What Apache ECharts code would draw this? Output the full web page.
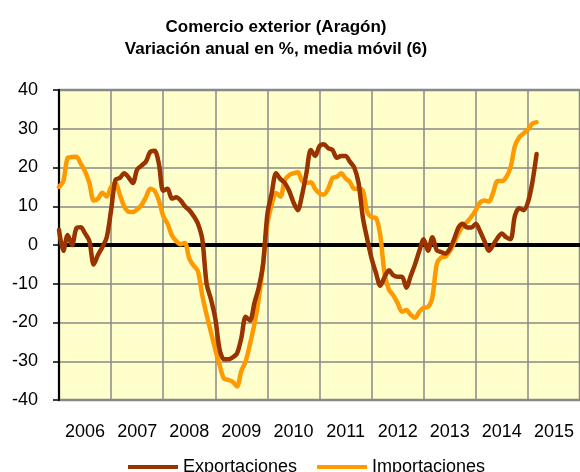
<!DOCTYPE html>
<html>
<head>
<meta charset="utf-8">
<script src="https://cdn.jsdelivr.net/npm/echarts@6/dist/echarts.min.js"></script>
<style>
html,body{margin:0;padding:0;background:#fff;}
#c{width:580px;height:472px;}
</style>
</head>
<body>
<div id="c"></div>
<script>
// Year labels (one band per year)
const years = ['2006','2007','2008','2009','2010','2011','2012','2013','2014','2015'];
// Monthly values from Jan 2006 (index 0) to Mar 2015
const exportaciones = [
  3.9,-1.5,2.6,0,4.3,4.6,3,1,-5,-2.5,-0.5,2,
  9,16.8,17.3,18.5,17.5,16,19.5,20.5,21.5,24,24.3,21,
  14,14.5,12,12.3,11.5,10,9,7.5,5.5,1.5,-10,-14,
  -19,-27,-29.5,-29.5,-29,-28,-24,-18.5,-19.5,-15,-11,-5,
  8,13.4,18.5,17,16,14,11,9,13,18.6,24.5,23,
  25.5,26,25,24.5,22.5,23,23,21.5,20,16,7,1.5,
  -3.5,-7.2,-10.5,-8.2,-6.5,-7.8,-8.2,-8.2,-11,-8,-5,-1.5,
  1.5,-1.5,2,-1.3,-1.8,-2.2,-1,1.5,4.5,5.5,4.5,4.5,
  5.5,3.5,1,-1.5,0,1.8,3,2,1.5,7.5,9.5,9,
  11,16,23.5
];
const importaciones = [
  15,16.5,22.5,22.7,22.8,21,19,16,11.5,12,13.5,12.5,
  15,16,13,10,8.6,8.5,9.2,10.3,12.3,14.5,14,11.5,
  7.5,5.5,2.5,1,0.2,0.5,-3.5,-5.3,-6.8,-13,-18,-22.5,
  -27,-31,-34.5,-34.8,-35.3,-36.5,-32.5,-30,-25.5,-20.5,-14,-5,
  5.5,10.5,13.4,12.5,16.8,18,18.5,18.8,16.5,16,16.2,14.5,
  13.3,13,14.5,17.3,17.6,18.5,17.2,16.3,14.5,14.5,14,8.5,
  7.2,7,2.5,-7.5,-11.5,-13,-15,-17.2,-16.8,-18,-18.8,-17.2,
  -16.2,-16,-13.5,-5,-3.2,-3,-1.6,0.5,3,4.8,6,7.3,
  9,11,11.5,11.2,13.5,16.5,16.5,17.5,20,25.5,27.8,28.8,
  29.8,31.3,31.7
];
const yTicks = {min:-40, max:40, interval:10};

const chart = echarts.init(document.getElementById('c'), null, {renderer:'canvas'});
const font = 'Liberation Sans, Arial, sans-serif';
chart.setOption({
  animation:false,
  backgroundColor:'#ffffff',
  title:{
    text:'Comercio exterior (Aragón)\nVariación anual en %, media móvil (6)',
    left:271, top:11, textAlign:'center',
    textStyle:{fontFamily:font, fontSize:17, fontWeight:'bold', color:'#000', lineHeight:22}
  },
  legend:{
    left:123, top:453, itemWidth:50, itemHeight:4, itemGap:20,
    textStyle:{fontFamily:font, fontSize:18, color:'#000'},
    data:[{name:'Exportaciones', icon:'rect'},{name:'Importaciones', icon:'rect'}]
  },
  grid:{left:59, right:0, top:90, bottom:72, show:true, backgroundColor:'#FFFFCC',
        borderColor:'#888888', borderWidth:2.5, containLabel:false},
  xAxis:[
    {type:'value', min:0, max:120, interval:12,
     axisLine:{show:false}, axisTick:{show:false}, axisLabel:{show:false},
     splitLine:{show:true, lineStyle:{color:'#888888', width:1.5}}},
    {type:'category', data:years, position:'bottom', boundaryGap:true,
     axisLine:{show:false}, axisTick:{show:false}, splitLine:{show:false},
     axisLabel:{margin:23, fontFamily:font, fontSize:18, color:'#000'}}
  ],
  yAxis:{type:'value', min:yTicks.min, max:yTicks.max, interval:yTicks.interval,
    axisLine:{show:true, lineStyle:{color:'#000', width:2}},
    axisTick:{show:true, inside:false, length:6, lineStyle:{color:'#000', width:1.5}},
    axisLabel:{margin:21, fontFamily:font, fontSize:18, color:'#000'},
    splitLine:{show:true, lineStyle:{color:'#888888', width:1.5}}},
  series:[
    {name:'Importaciones', type:'line', xAxisIndex:0, symbol:'none', smooth:0.3, z:3,
     data:importaciones.map((v,i)=>[i,v]),
     lineStyle:{color:'#FF9900', width:4.5, cap:'round', join:'round'}, itemStyle:{color:'#FF9900'},
     markLine:{silent:true, symbol:['none','none'], label:{show:false}, z:2,
       lineStyle:{color:'#000', width:4, type:'solid'}, data:[{yAxis:0}]}},
    {name:'Exportaciones', type:'line', xAxisIndex:0, symbol:'none', smooth:0.3, z:4,
     data:exportaciones.map((v,i)=>[i,v]),
     lineStyle:{color:'#993300', width:4.5, cap:'round', join:'round'}, itemStyle:{color:'#993300'}}
  ]
});
</script>
</body>
</html>
